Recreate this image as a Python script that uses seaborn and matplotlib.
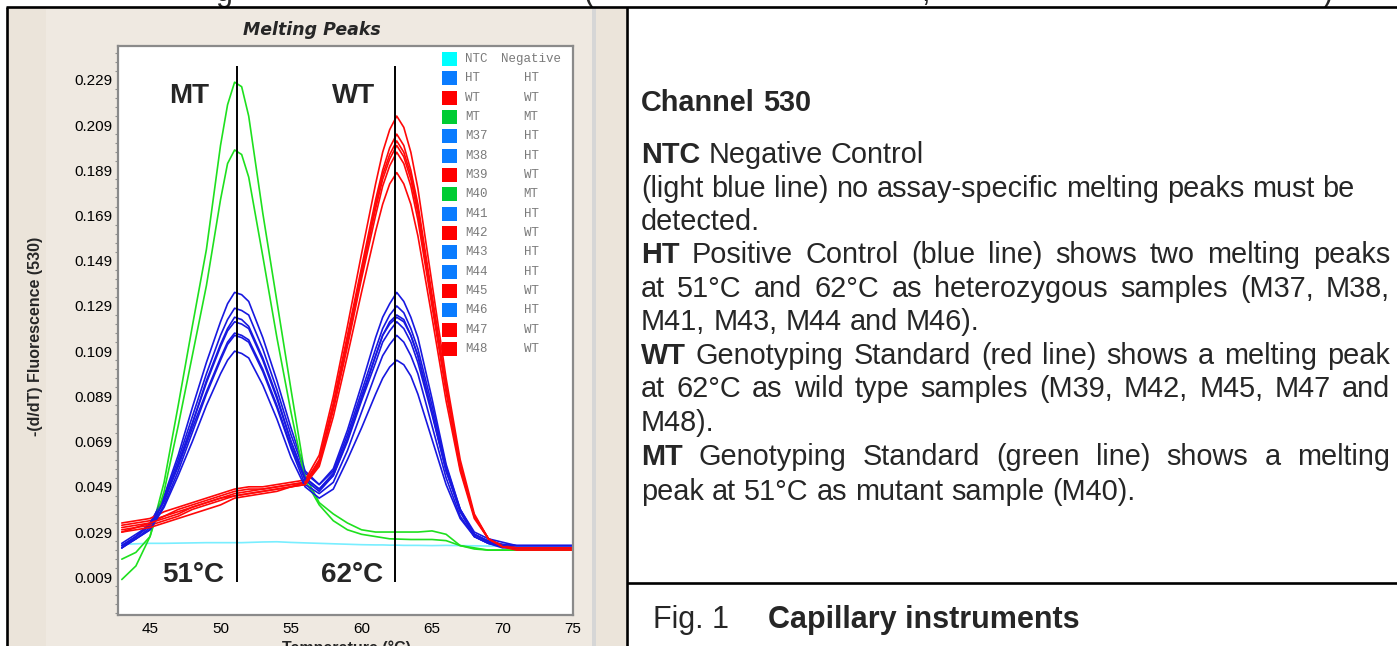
import matplotlib
matplotlib.use("Agg")
import numpy as np
import pandas as pd
import matplotlib.pyplot as plt
import seaborn as sns
from matplotlib.patches import Rectangle
from matplotlib.lines import Line2D
from matplotlib.ticker import AutoMinorLocator, FormatStrFormatter

W, H = 1397, 646

# temperature grid (deg C) shared by every melting curve
TEMPS = [43, 44, 45, 46, 47, 48, 49, 50, 50.5, 51, 51.5,
         52, 53, 54, 55, 56, 57, 58, 59, 60, 61, 61.5, 62, 62.5, 63, 63.5,
         64, 65, 66, 67, 68, 69, 70, 71, 72, 73, 74, 75]

SAMPLES = ["NTC", "HT", "WT", "MT", "M37", "M38", "M39", "M40",
           "M41", "M42", "M43", "M44", "M45", "M46", "M47", "M48"]
GENOTYPES = ["Negative", "HT", "WT", "MT", "HT", "HT", "WT", "MT",
             "HT", "WT", "HT", "HT", "WT", "HT", "WT", "WT"]

# -(d/dT) fluorescence (530)
NTC = [0.0235, 0.0238, 0.0240, 0.0240, 0.0241, 0.0242, 0.0243, 0.0243, 0.0243, 0.0243, 0.0243,
       0.0244, 0.0246, 0.0247, 0.0244, 0.0242, 0.0240, 0.0238, 0.0236, 0.0234, 0.0233,
       0.0233, 0.0232, 0.0232, 0.0231, 0.0231,
       0.0231, 0.0230, 0.0231, 0.0230, 0.0229, 0.0228, 0.0228, 0.0227, 0.0227, 0.0227, 0.0227, 0.0227]

HT = [0.023, 0.027, 0.032, 0.043, 0.059, 0.077, 0.095, 0.111, 0.118, 0.122, 0.121,
      0.119, 0.105, 0.088, 0.069, 0.053, 0.048, 0.055, 0.070, 0.088, 0.107,
      0.116, 0.121, 0.124, 0.122, 0.116,
      0.107, 0.082, 0.057, 0.038, 0.028, 0.025, 0.0235, 0.023, 0.023, 0.023, 0.023, 0.023]
M37 = [0.022, 0.027, 0.032, 0.045, 0.063, 0.084, 0.104, 0.122, 0.130, 0.135, 0.134,
       0.131, 0.115, 0.096, 0.075, 0.056, 0.050, 0.057, 0.074, 0.094, 0.115,
       0.124, 0.130, 0.135, 0.131, 0.124,
       0.115, 0.088, 0.059, 0.039, 0.028, 0.0245, 0.0228, 0.022, 0.022, 0.022, 0.022, 0.022]
M38 = [0.023, 0.027, 0.033, 0.044, 0.061, 0.080, 0.099, 0.116, 0.123, 0.128, 0.127,
       0.125, 0.110, 0.092, 0.072, 0.055, 0.050, 0.056, 0.072, 0.091, 0.110,
       0.119, 0.125, 0.129, 0.126, 0.119,
       0.110, 0.085, 0.058, 0.039, 0.028, 0.025, 0.0235, 0.023, 0.023, 0.023, 0.023, 0.023]
M41 = [0.022, 0.026, 0.031, 0.0425, 0.059, 0.077, 0.096, 0.112, 0.119, 0.124, 0.123,
       0.120, 0.106, 0.089, 0.069, 0.053, 0.048, 0.054, 0.070, 0.089, 0.107,
       0.116, 0.122, 0.125, 0.123, 0.116,
       0.107, 0.082, 0.056, 0.038, 0.027, 0.024, 0.0226, 0.022, 0.022, 0.022, 0.022, 0.022]
M43 = [0.024, 0.028, 0.032, 0.043, 0.058, 0.075, 0.091, 0.106, 0.113, 0.117, 0.116,
       0.114, 0.101, 0.085, 0.067, 0.052, 0.047, 0.054, 0.069, 0.087, 0.104,
       0.113, 0.118, 0.122, 0.119, 0.113,
       0.104, 0.081, 0.056, 0.039, 0.029, 0.026, 0.0245, 0.023, 0.023, 0.023, 0.023, 0.023]
M44 = [0.022, 0.026, 0.030, 0.041, 0.056, 0.073, 0.090, 0.105, 0.112, 0.116, 0.115,
       0.113, 0.100, 0.084, 0.066, 0.050, 0.046, 0.051, 0.065, 0.082, 0.099,
       0.107, 0.112, 0.116, 0.113, 0.107,
       0.099, 0.076, 0.053, 0.036, 0.027, 0.024, 0.022, 0.022, 0.022, 0.022, 0.022, 0.022]
M46 = [0.023, 0.026, 0.030, 0.040, 0.054, 0.069, 0.085, 0.099, 0.105, 0.109, 0.108,
       0.106, 0.094, 0.079, 0.062, 0.049, 0.044, 0.048, 0.061, 0.075, 0.090,
       0.097, 0.102, 0.105, 0.103, 0.098,
       0.090, 0.070, 0.050, 0.035, 0.027, 0.024, 0.023, 0.022, 0.022, 0.022, 0.022, 0.022]

WT = [0.032, 0.033, 0.034, 0.036, 0.038, 0.040, 0.042, 0.044, 0.045, 0.046, 0.0465,
      0.047, 0.048, 0.049, 0.050, 0.051, 0.060, 0.084, 0.113, 0.143, 0.172,
      0.185, 0.194, 0.200, 0.195, 0.185,
      0.170, 0.131, 0.092, 0.058, 0.036, 0.026, 0.0225, 0.0215, 0.0215, 0.0215, 0.0215, 0.0215]
M39 = [0.033, 0.034, 0.035, 0.038, 0.040, 0.042, 0.044, 0.046, 0.047, 0.048, 0.0485,
       0.049, 0.049, 0.050, 0.051, 0.052, 0.063, 0.089, 0.120, 0.152, 0.183,
       0.197, 0.207, 0.213, 0.208, 0.197,
       0.181, 0.139, 0.097, 0.061, 0.037, 0.026, 0.023, 0.022, 0.022, 0.022, 0.022, 0.022]
M42 = [0.029, 0.031, 0.033, 0.036, 0.039, 0.041, 0.043, 0.045, 0.046, 0.047, 0.0475,
       0.048, 0.048, 0.049, 0.050, 0.051, 0.061, 0.086, 0.116, 0.146, 0.176,
       0.189, 0.199, 0.205, 0.200, 0.189,
       0.174, 0.134, 0.094, 0.059, 0.036, 0.026, 0.0225, 0.0215, 0.0215, 0.0215, 0.0215, 0.0215]
M45 = [0.030, 0.031, 0.032, 0.034, 0.036, 0.039, 0.041, 0.043, 0.044, 0.045, 0.0455,
       0.046, 0.047, 0.048, 0.049, 0.051, 0.060, 0.085, 0.114, 0.144, 0.174,
       0.187, 0.196, 0.202, 0.197, 0.187,
       0.172, 0.132, 0.093, 0.058, 0.036, 0.026, 0.0225, 0.021, 0.021, 0.021, 0.021, 0.021]
M47 = [0.029, 0.030, 0.031, 0.033, 0.035, 0.037, 0.039, 0.041, 0.0425, 0.044, 0.0445,
       0.045, 0.046, 0.047, 0.049, 0.050, 0.059, 0.083, 0.111, 0.141, 0.169,
       0.182, 0.191, 0.197, 0.192, 0.182,
       0.167, 0.129, 0.091, 0.057, 0.036, 0.026, 0.0225, 0.022, 0.022, 0.022, 0.022, 0.022]
M48 = [0.031, 0.032, 0.033, 0.035, 0.037, 0.040, 0.042, 0.044, 0.0445, 0.045, 0.0455,
       0.046, 0.047, 0.048, 0.049, 0.050, 0.058, 0.080, 0.107, 0.135, 0.162,
       0.174, 0.183, 0.188, 0.183, 0.174,
       0.160, 0.124, 0.087, 0.056, 0.035, 0.026, 0.0225, 0.022, 0.022, 0.022, 0.022, 0.022]

MT = [0.008, 0.014, 0.027, 0.051, 0.085, 0.120, 0.154, 0.200, 0.218, 0.228, 0.226,
      0.213, 0.170, 0.131, 0.092, 0.054, 0.042, 0.037, 0.033, 0.030, 0.029,
      0.029, 0.029, 0.029, 0.029, 0.029,
      0.029, 0.0295, 0.028, 0.023, 0.0215, 0.021, 0.021, 0.021, 0.021, 0.021, 0.021, 0.021]
M40 = [0.017, 0.020, 0.027, 0.047, 0.076, 0.107, 0.138, 0.176, 0.192, 0.198, 0.196,
       0.186, 0.151, 0.115, 0.082, 0.052, 0.041, 0.034, 0.030, 0.028, 0.027,
       0.0265, 0.026, 0.0259, 0.0258, 0.0257,
       0.0257, 0.0257, 0.0252, 0.023, 0.022, 0.021, 0.021, 0.021, 0.021, 0.021, 0.021, 0.021]

CURVES = {"NTC": NTC, "HT": HT, "WT": WT, "MT": MT, "M37": M37, "M38": M38, "M39": M39,
          "M40": M40, "M41": M41, "M42": M42, "M43": M43, "M44": M44, "M45": M45,
          "M46": M46, "M47": M47, "M48": M48}

PEAK_TEMPS = [51.15, 62.4]
PEAK_LABELS = ["51°C", "62°C"]
PEAK_NAMES = ["MT", "WT"]

X_TICKS = [45, 50, 55, 60, 65, 70, 75]
Y_TICKS = [0.009, 0.029, 0.049, 0.069, 0.089, 0.109, 0.129, 0.149, 0.169, 0.189, 0.209, 0.229]

LINE_COLORS = {"Negative": "#79EEFF", "HT": "#1818E0", "WT": "#FF0808", "MT": "#1EE01E"}
SWATCH_COLORS = {"Negative": "#00FFFF", "HT": "#0A7CFF", "WT": "#FF0000", "MT": "#00CC33"}


def fx(px):
    return px / W


def fy(py):
    return 1 - py / H


sns.set_style("white")
plt.rcParams["font.family"] = ["Liberation Sans", "DejaVu Sans"]

rows = []
for name in SAMPLES:
    for t, v in zip(TEMPS, CURVES[name]):
        rows.append({"Sample": name, "Temperature": t, "Fluorescence": v})
df = pd.DataFrame(rows)
palette = {s: LINE_COLORS[g] for s, g in zip(SAMPLES, GENOTYPES)}

fig = plt.figure(figsize=(W / 100, H / 100), dpi=100)
fig.patch.set_facecolor("white")

# instrument window background
fig.add_artist(Rectangle((fx(8), 0), fx(626) - fx(8), fy(8), transform=fig.transFigure,
                         facecolor="#EBE4DA", edgecolor="none", zorder=-3))
fig.add_artist(Rectangle((fx(46), 0), fx(592) - fx(46), fy(8), transform=fig.transFigure,
                         facecolor="#EFE9E1", edgecolor="none", zorder=-2))
fig.add_artist(Rectangle((fx(592), 0), fx(4), fy(8), transform=fig.transFigure,
                         facecolor="#D6D6D6", edgecolor="none", zorder=-2))

ax = fig.add_axes([fx(118), 1 - 615 / H, (573 - 118) / W, (615 - 46) / H])
ax.set_facecolor("white")

sns.lineplot(data=df, x="Temperature", y="Fluorescence", hue="Sample", hue_order=SAMPLES,
             palette=palette, estimator=None, errorbar=None, sort=False, legend=False,
             linewidth=1.2, ax=ax)

ax.set_xlim(42.73, 75.0)
ax.set_ylim(-0.0077, 0.244)
ax.set_xticks(X_TICKS)
ax.set_yticks(Y_TICKS)
ax.yaxis.set_major_formatter(FormatStrFormatter("%.3f"))
ax.yaxis.set_minor_locator(AutoMinorLocator(5))
ax.tick_params(axis="both", which="major", direction="out", length=3.5, width=1,
               color="#808080", labelsize=11, labelcolor="black")
ax.tick_params(axis="y", which="major", pad=0.8)
ax.tick_params(axis="x", which="major", pad=1.5)
ax.tick_params(axis="y", which="minor", direction="out", length=2, width=0.8, color="#909090", left=True)
ax.set_xlabel("")
ax.set_ylabel("")
for sp in ax.spines.values():
    sp.set_color("#8a8a8a")
    sp.set_linewidth(1.6)
    sp.set_visible(True)

# peak marker lines and annotations
ax.vlines(PEAK_TEMPS, 0.0068, 0.2352, color="black", linewidth=1.4, zorder=4)
for t, lab in zip([48.03, 59.30], PEAK_LABELS):
    ax.text(t, 0.0068, lab, ha="center", va="baseline", fontsize=20, fontweight="bold", zorder=5)
for t, lab in zip([47.75, 59.44], PEAK_NAMES):
    ax.text(t, 0.2186, lab, ha="center", va="baseline", fontsize=20, fontweight="bold", zorder=5)

# sample legend drawn like the instrument software
for i, (name, geno) in enumerate(zip(SAMPLES, GENOTYPES)):
    yc = 59 + i * 19.33
    ay = (615 - yc) / 569
    ax.add_patch(Rectangle((0.7121, ay - 0.0125), 0.033, 0.025, transform=ax.transAxes,
                           facecolor=SWATCH_COLORS[geno], edgecolor="none", clip_on=False, zorder=6))
    ax.text(0.7626, ay, name, transform=ax.transAxes, ha="left", va="center",
            family="Liberation Mono", fontsize=9, color="#7a7a7a", zorder=6)
    ax.text(0.9077, ay, geno, transform=ax.transAxes, ha="center", va="center",
            family="Liberation Mono", fontsize=9, color="#7a7a7a", zorder=6)

fig.text(fx(312), fy(35), "Melting Peaks", ha="center", va="baseline", family="DejaVu Sans",
         fontweight="bold", style="italic", fontsize=12.5)
fig.text(fx(36), fy(336), "-(d/dT) Fluorescence (530)", rotation=90, ha="center", va="center",
         fontweight="bold", fontsize=11.5)
fig.text(fx(346), fy(640), "Temperature (°C)", ha="center", va="top", fontweight="bold", fontsize=11.5)

# frame lines of the document table
for xs, ys in [((6, W), (7, 7)), ((6.5, 6.5), (7, H)), ((627, 627), (7, H)), ((627, W), (583, 583))]:
    fig.add_artist(Line2D([fx(xs[0]), fx(xs[1])], [fy(ys[0]), fy(ys[1])], transform=fig.transFigure,
                          color="black", linewidth=1.9, solid_capstyle="butt", zorder=10))

# clipped glyphs of the caption line above
for px, ch in [(224, "g"), (588, "("), (925, ","), (1328, ")")]:
    fig.text(fx(px), fy(1), ch, ha="center", va="baseline", fontsize=22, zorder=9)

# explanatory text with justified lines
renderer = fig.canvas.get_renderer()
BODY = 20.8


def text_width(s, size, weight):
    t = fig.text(0, 0, s, fontsize=size, fontweight=weight)
    w = t.get_window_extent(renderer).width
    t.remove()
    return w


def write_line(baseline, parts, justify, x0=641, x1=1390, size=BODY):
    words = [(w, weight) for text, weight in parts for w in text.split()]
    widths = [text_width(w, size, weight) for w, weight in words]
    space = text_width("a a", size, "normal") - text_width("aa", size, "normal")
    if justify and len(words) > 1:
        space = (x1 - x0 - sum(widths)) / (len(words) - 1)
    x = x0
    for (w, weight), wd in zip(words, widths):
        fig.text(fx(x), fy(baseline), w, fontsize=size, fontweight=weight, ha="left", va="baseline")
        x += wd + space


TEXT_LINES = [
    (111, [("Channel 530", "bold")], False),
    (163, [("NTC", "bold"), ("Negative Control", "normal")], False),
    (197, [("(light blue line) no assay-specific melting peaks must be", "normal")], False),
    (230, [("detected.", "normal")], False),
    (263, [("HT", "bold"), ("Positive Control (blue line) shows two melting peaks", "normal")], True),
    (297, [("at 51°C and 62°C as heterozygous samples (M37, M38,", "normal")], True),
    (330, [("M41, M43, M44 and M46).", "normal")], False),
    (364, [("WT", "bold"), ("Genotyping Standard (red line) shows a melting peak", "normal")], True),
    (397, [("at 62°C as wild type samples (M39, M42, M45, M47 and", "normal")], True),
    (431, [("M48).", "normal")], False),
    (465, [("MT", "bold"), ("Genotyping Standard (green line) shows a melting", "normal")], True),
    (500, [("peak at 51°C as mutant sample (M40).", "normal")], False),
]
for baseline, parts, justify in TEXT_LINES:
    write_line(baseline, parts, justify)

fig.text(fx(653), fy(628), "Fig. 1", fontsize=22, ha="left", va="baseline")
fig.text(fx(768), fy(628), "Capillary instruments", fontsize=22, fontweight="bold", ha="left", va="baseline")

fig.savefig("out.png", dpi=100)
